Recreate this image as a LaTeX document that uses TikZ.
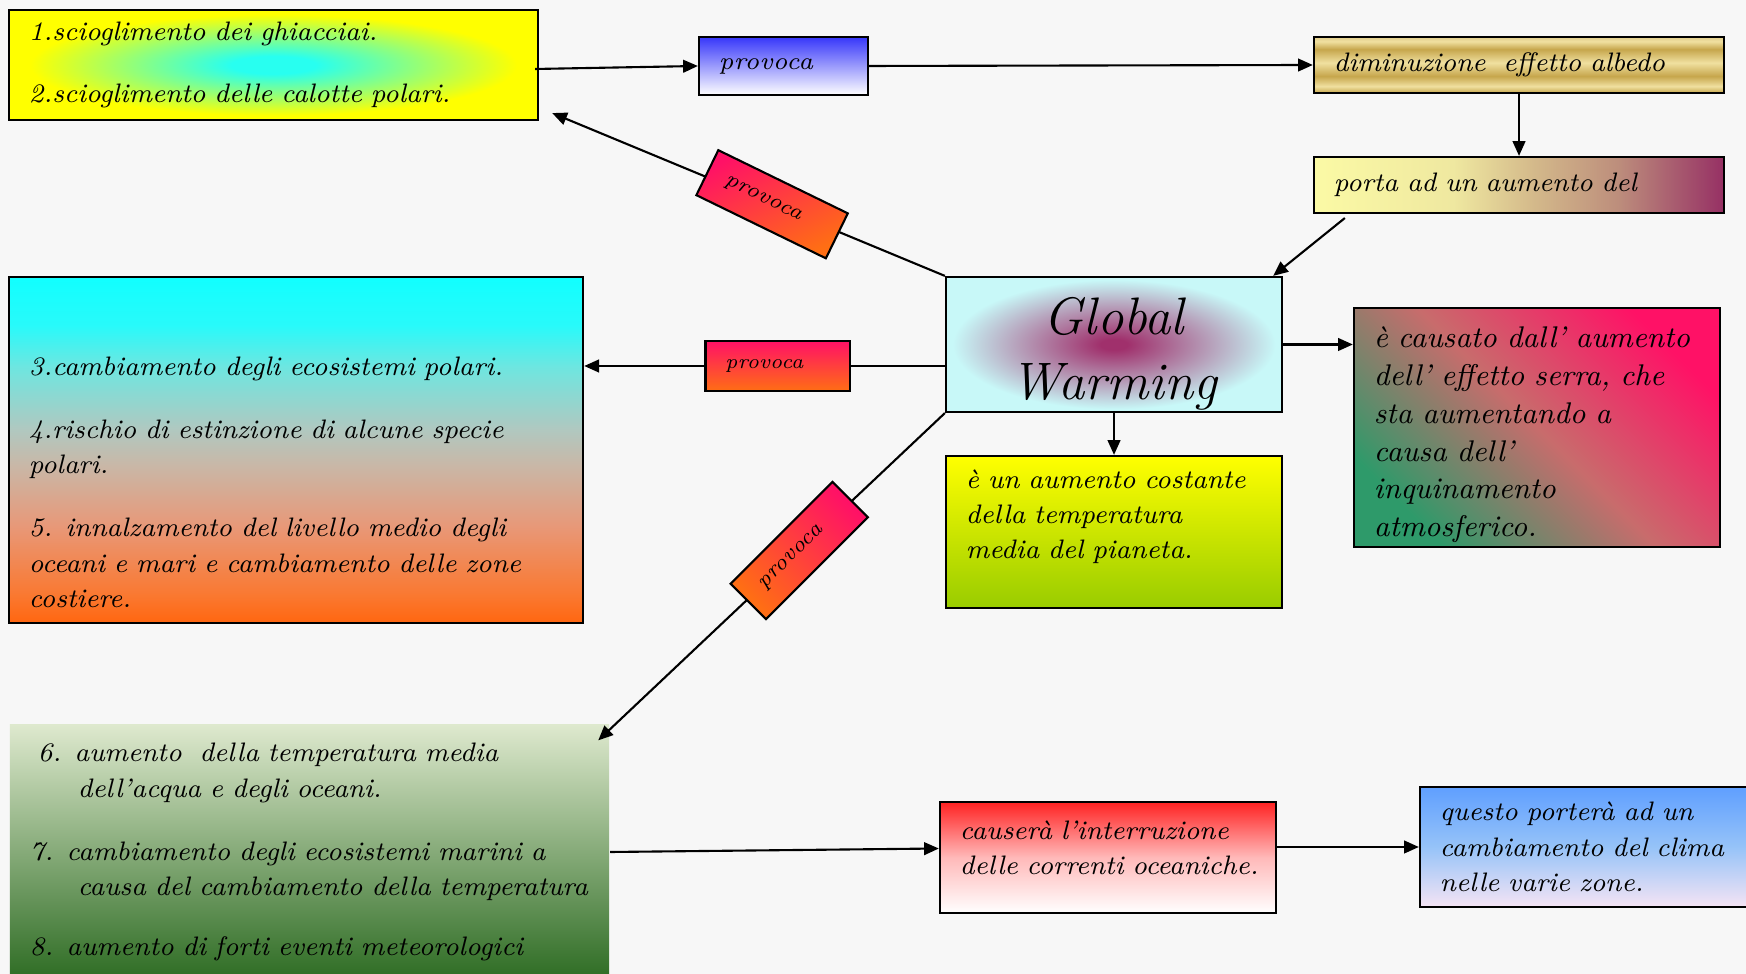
\documentclass[tikz,border=0pt]{standalone}
\usetikzlibrary{arrows.meta}
\usetikzlibrary{calc}

\definecolor{paper}{RGB}{247,247,247}
\definecolor{icecyan}{RGB}{40,255,240}
\definecolor{iceyel}{RGB}{255,255,0}
\definecolor{blueone}{RGB}{55,55,250}
\definecolor{golddk}{RGB}{198,166,76}
\definecolor{goldlt}{RGB}{240,224,160}
\definecolor{goldmd}{RGB}{226,206,140}
\definecolor{portaA}{RGB}{251,250,165}
\definecolor{portaB}{RGB}{239,232,160}
\definecolor{portaC}{RGB}{211,184,138}
\definecolor{portaD}{RGB}{189,142,124}
\definecolor{portaE}{RGB}{150,48,100}
\definecolor{gwred}{RGB}{160,48,108}
\definecolor{gwcyan}{RGB}{200,248,248}
\definecolor{polA}{RGB}{255,102,16}
\definecolor{polB}{RGB}{250,120,48}
\definecolor{polC}{RGB}{232,152,120}
\definecolor{polD}{RGB}{200,184,168}
\definecolor{polE}{RGB}{176,200,192}
\definecolor{polF}{RGB}{110,230,224}
\definecolor{polG}{RGB}{40,250,250}
\definecolor{polH}{RGB}{17,255,255}
\definecolor{provpink}{RGB}{255,17,102}
\definecolor{provorange}{RGB}{255,110,20}
\definecolor{ygtop}{RGB}{255,255,0}
\definecolor{ygbot}{RGB}{153,204,0}
\definecolor{serraA}{RGB}{255,17,102}
\definecolor{serraB}{RGB}{200,108,108}
\definecolor{serraC}{RGB}{46,154,106}
\definecolor{maritop}{RGB}{222,233,206}
\definecolor{maribot}{RGB}{40,104,30}
\definecolor{caustop}{RGB}{255,34,34}
\definecolor{causmid}{RGB}{255,185,185}
\definecolor{questotop}{RGB}{95,159,255}
\definecolor{questomid}{RGB}{150,195,248}
\definecolor{questobot}{RGB}{245,228,244}

\pgfdeclareradialshading{iceglow}{\pgfpointorigin}{color(0bp)=(icecyan); color(4bp)=(icecyan); color(23bp)=(iceyel); color(50bp)=(iceyel)}
\pgfdeclareradialshading{gwglow}{\pgfpointorigin}{color(0bp)=(gwred); color(2bp)=(gwred); color(24bp)=(gwcyan); color(50bp)=(gwcyan)}
\pgfdeclareverticalshading{goldbar}{100bp}{color(0bp)=(golddk); color(25bp)=(golddk); color(31bp)=(goldlt); color(40bp)=(golddk); color(52bp)=(goldlt); color(64bp)=(golddk); color(71bp)=(goldlt); color(75bp)=(goldmd); color(100bp)=(goldmd)}
\pgfdeclarehorizontalshading{portafade}{100bp}{color(0bp)=(portaA); color(25bp)=(portaA); color(42bp)=(portaB); color(52bp)=(portaC); color(62bp)=(portaD); color(75bp)=(portaE); color(100bp)=(portaE)}
\pgfdeclareverticalshading{polarfade}{100bp}{color(0bp)=(polA); color(25bp)=(polA); color(29bp)=(polB); color(39bp)=(polC); color(48bp)=(polD); color(53bp)=(polE); color(62bp)=(polF); color(68bp)=(polG); color(75bp)=(polH); color(100bp)=(polH)}

\begin{document}
\begin{tikzpicture}[x=0.01cm,y=-0.01cm,
    box/.style={draw=black,line width=0.6pt,shade,inner xsep=0.2cm,inner ysep=0pt,
      align=left,font=\itshape\fontsize{7.6}{10}\selectfont},
    provbox/.style={box,top color=provpink,bottom color=provorange,
      minimum width=1.44cm,minimum height=0.5cm,text width=1.04cm,
      font=\itshape\fontsize{6.2}{8}\selectfont},
    line/.style={line width=0.6pt},
    arr/.style={line,-{Triangle[length=4.2pt,width=3.6pt]}}]
  \useasboundingbox (0,0) rectangle (1746,974);
  \fill[paper] (0,0) rectangle (1746,974);

  % boxes
  \node[box,shading=iceglow,minimum width=5.29cm,minimum height=1.1cm,text width=4.89cm] (ice) at (273.5,65)
    {1.scioglimento dei ghiacciai.\\[7.5pt]2.scioglimento delle calotte polari.};
  \node[box,top color=blueone,bottom color=white,minimum width=1.69cm,minimum height=0.58cm,text width=1.29cm,
    font=\itshape\fontsize{7}{9}\selectfont] (pone) at (783.5,66) {provoca};
  \node[box,shading=goldbar,minimum width=4.1cm,minimum height=0.56cm,text width=3.7cm] (dim) at (1519,65)
    {diminuzione~ effetto albedo};
  \node[box,shading=portafade,minimum width=4.1cm,minimum height=0.56cm,text width=3.7cm] (porta) at (1519,185)
    {porta ad un aumento del};
  \node[box,shading=gwglow,minimum width=3.36cm,minimum height=1.35cm,text width=2.96cm,align=center,
    font=\itshape\fontsize{15}{18.5}\selectfont] (gw) at (1114,344.5) {\mbox{}\\[-2.8pt]Global\\Warming};
  \node[box,shading=polarfade,minimum width=5.74cm,minimum height=3.46cm,text width=5.34cm] (polar) at (296,450)
    {\mbox{}\\[13.5pt]3.cambiamento degli ecosistemi polari.\\[8pt]4.rischio di estinzione di alcune specie\\polari.\\[8pt]%
     5. innalzamento del livello medio degli\\oceani e mari e cambiamento delle zone\\costiere.};
  \node[provbox,font=\itshape\fontsize{5.8}{8}\selectfont] (pmid) at (777.5,366) {provoca};
  \node[box,top color=ygtop,bottom color=ygbot,minimum width=3.36cm,minimum height=1.52cm,text width=2.96cm] (temp) at (1114,532)
    {è un aumento costante\\della temperatura\\media del pianeta.\\\mbox{}};
  \node[box,top color=serraA,bottom color=serraC,middle color=serraB,shading angle=-45,
    minimum width=3.66cm,minimum height=2.39cm,text width=3.26cm,font=\itshape\fontsize{8.5}{10.8}\selectfont] (serra) at (1537,427.5)
    {\mbox{}\\[-0.8pt]\mbox{è causato dall' aumento}\\dell' effetto serra, che\\sta aumentando a\\causa dell'\\inquinamento\\atmosferico.};
  \node[box,draw=none,top color=maritop,bottom color=maribot,minimum width=5.99cm,minimum height=2.63cm,text width=5.59cm] (mari) at (309.5,856)
    {\hspace*{0.08cm}6. aumento~ della temperatura media\\\hspace*{0.48cm}dell'acqua e degli oceani.\\[8pt]%
     7. cambiamento degli ecosistemi marini a\\\hspace*{0.48cm}\mbox{causa del cambiamento della temperatura}\\[7pt]%
     8. aumento di forti eventi meteorologici\\[-6.2pt]\mbox{}};
  \node[box,top color=caustop,bottom color=white,middle color=causmid,minimum width=3.36cm,minimum height=1.11cm,text width=2.96cm] (caus) at (1108,857.5)
    {causerà l'interruzione\\\mbox{delle correnti oceaniche.}\\[-4.3pt]\mbox{}};
  \node[box,top color=questotop,bottom color=questobot,middle color=questomid,minimum width=3.3cm,minimum height=1.2cm,text width=2.9cm] (questo) at (1585,847)
    {questo porterà ad un\\\mbox{cambiamento del clima}\\nelle varie zone.};

  % connectors
  \draw[arr] ($(ice.east)+(-4,4)$) -- (pone.west);
  \draw[arr] (pone.east) -- (dim.west);
  \draw[arr] (dim.south) -- (porta.north);
  \draw[arr] ($(porta.south west)+(32,4)$) -- ($(gw.north east)+(-10,0)$);
  \draw[arr] (gw.east) -- (gw.east -| serra.west);
  \draw[arr] (gw.south) -- (temp.north);
  \draw[line] (gw.west |- pmid.east) -- (pmid.east);
  \draw[arr] (pmid.west) -- (pmid.west -| polar.east);
  \draw[arr] (gw.north west) -- node[provbox,pos=0.44,rotate=-26,shading angle=26] (pup) {provoca}
    ($(ice.south east)+(13,-8)$);
  \draw[arr] (gw.south west) -- node[provbox,pos=0.42,rotate=45,shading angle=-45] (pdown) {provoca}
    ($(mari.north east)+(-12,17)$);
  \draw[arr] ($(mari.east)+(0,-4)$) -- ($(caus.west)+(0,-9)$);
  \draw[arr] (caus.east |- questo.west) -- (questo.west);
\end{tikzpicture}
\end{document}
